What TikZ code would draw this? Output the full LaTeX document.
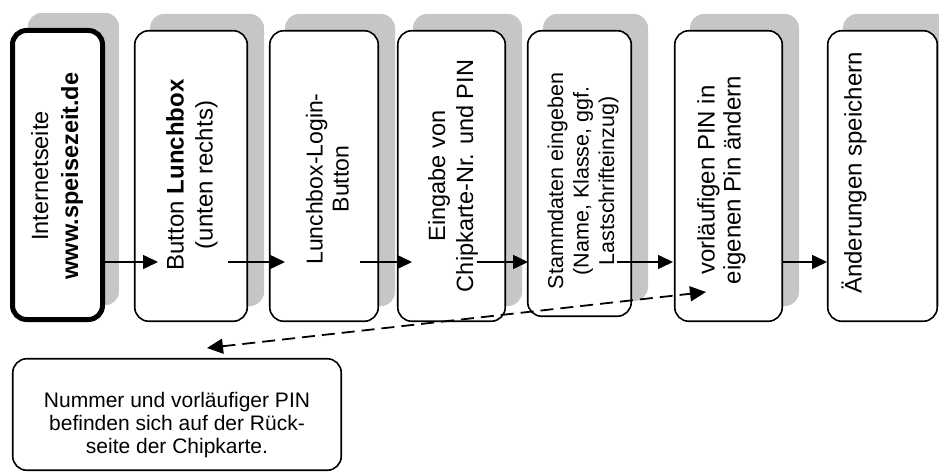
\documentclass[tikz,border=0pt]{standalone}
\usepackage{fontspec}
\setmainfont{Liberation Sans}
\usetikzlibrary{arrows.meta}
\begin{document}
\begin{tikzpicture}[x=1pt,y=-1pt,
  box/.style={draw, line width=1.6pt, rounded corners=14pt, fill=white, inner sep=0pt, outer sep=0pt},
  shadowbox/.style={fill=gray!45, rounded corners=14pt, inner sep=0pt, outer sep=0pt},
  vtext/.style={rotate=90, align=center, inner sep=0pt, font=\fontsize{23.5}{28}\selectfont},
  htext/.style={align=center, inner sep=0pt, font=\fontsize{21}{23}\selectfont},
  flow/.style={line width=1.5pt, -{Triangle[length=15pt,width=14pt]}},
  dashflow/.style={line width=1.8pt, dash pattern=on 13pt off 7pt,
     {Triangle[length=16pt,width=15pt]}-{Triangle[length=16pt,width=15pt]}}]
\useasboundingbox (0,0) rectangle (939,473);
% shadows
\node[shadowbox, draw=white, line width=0.8pt, minimum width=92pt, minimum height=293pt] (s1) at (73.5,159) {};
\node[shadowbox, minimum width=114pt, minimum height=292pt] (s2) at (207,160) {};
\node[shadowbox, minimum width=110pt, minimum height=292pt] (s3) at (340,160) {};
\node[shadowbox, minimum width=109pt, minimum height=292pt] (s4) at (467.5,160) {};
\node[shadowbox, minimum width=105pt, minimum height=287pt] (s5) at (595.5,157.5) {};
\node[shadowbox, minimum width=109pt, minimum height=292pt] (s6) at (744.5,160) {};
\node[shadowbox, minimum width=111pt, minimum height=292pt] (s7) at (898.5,160) {};
% boxes
\node[box, line width=5pt, minimum width=90pt, minimum height=289pt] (b1) at (57.5,175) {};
\node[box, minimum width=112.5pt, minimum height=290.5pt] (b2) at (191,176) {};
\node[box, minimum width=108.5pt, minimum height=290.5pt] (b3) at (324,176) {};
\node[box, minimum width=107.5pt, minimum height=290.5pt] (b4) at (451.5,176) {};
\node[box, minimum width=103.5pt, minimum height=285.5pt] (b5) at (579.5,173.5) {};
\node[box, minimum width=107.5pt, minimum height=290.5pt] (b6) at (728.5,176) {};
\node[box, minimum width=109.5pt, minimum height=290.5pt] (b7) at (882.5,176) {};
\node[box, minimum width=328.5pt, minimum height=111.5pt] (b8) at (177,414.5) {};
% texts
\node[vtext, font=\fontsize{23.5}{30}\selectfont] (t1) at (57,176) {Internetseite\\\textbf{www.speisezeit.de}};
\node[vtext, font=\fontsize{24}{29}\selectfont] (t2) at (192,175) {Button \textbf{Lunchbox}\\(unten rechts)};
\node[vtext, font=\fontsize{23}{26}\selectfont] (t3) at (327.5,179) {Lunchbox-Login-\\Button};
\node[vtext] (t4) at (453,176) {Eingabe von\\Chipkarte-Nr. und PIN};
\node[vtext, font=\fontsize{21.5}{25.5}\selectfont] (t5) at (583,181) {Stammdaten eingeben\\(Name, Klasse, ggf.\\Lastschrifteinzug)};
\node[vtext, font=\fontsize{24}{26}\selectfont] (t6) at (721.5,180) {vorläufigen PIN in\\eigenen Pin ändern};
\node[vtext, font=\fontsize{24}{28}\selectfont] (t7) at (854,173) {Änderungen speichern};
\node[htext] (t8) at (177,425) {Nummer und vorläufiger PIN\\befinden sich auf der Rück-\\seite der Chipkarte.};
% arrow end points
\coordinate (a1s) at (105,262); \coordinate (a1e) at (158,262);
\coordinate (a2s) at (228,262); \coordinate (a2e) at (285,262);
\coordinate (a3s) at (360,262); \coordinate (a3e) at (412,262);
\coordinate (a4s) at (477,262); \coordinate (a4e) at (528,262);
\coordinate (a5s) at (617,262); \coordinate (a5e) at (673,262);
\coordinate (a6s) at (783,262); \coordinate (a6e) at (827,262);
\coordinate (d1) at (207,348); \coordinate (d2) at (706,292);
\draw[flow] (a1s) -- (a1e);
\draw[flow] (a2s) -- (a2e);
\draw[flow] (a3s) -- (a3e);
\draw[flow] (a4s) -- (a4e);
\draw[flow] (a5s) -- (a5e);
\draw[flow] (a6s) -- (a6e);
\draw[dashflow] (d1) -- (d2);
\end{tikzpicture}
\end{document}
